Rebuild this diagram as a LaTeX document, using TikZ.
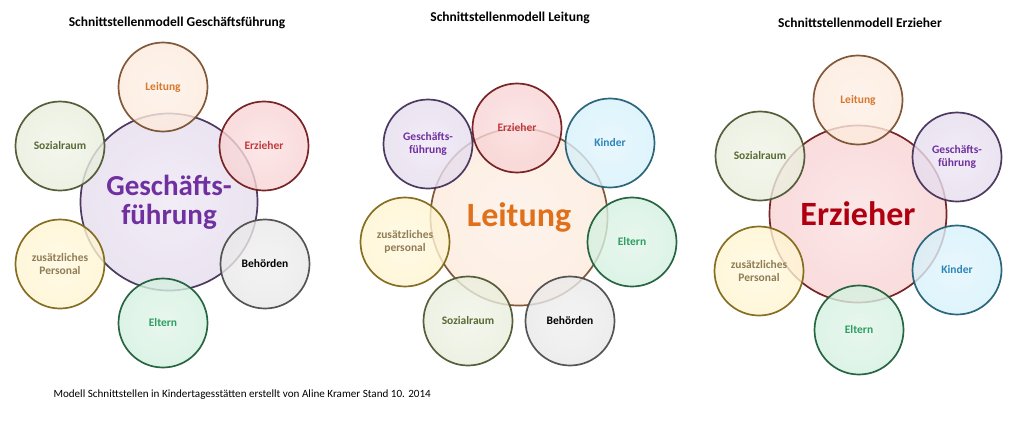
\documentclass[tikz,border=0pt]{standalone}
\usepackage{fontspec}
\setmainfont{Carlito}
\usepackage{tikz}
\usetikzlibrary{shadings}

\definecolor{lila}{HTML}{8A63B0}
\definecolor{orng}{HTML}{F4A060}
\definecolor{rot}{HTML}{E2363C}
\definecolor{oliv}{HTML}{9BB162}
\definecolor{gelb}{HTML}{FFD12E}
\definecolor{grau}{HTML}{9A9A9A}
\definecolor{gruen}{HTML}{3DBB72}
\definecolor{blau}{HTML}{45BEEA}
\definecolor{tlila}{HTML}{7030A0}
\definecolor{torng}{HTML}{D9772C}
\definecolor{trot}{HTML}{C0393D}
\definecolor{toliv}{HTML}{5A6A35}
\definecolor{tgelb}{HTML}{8F7D55}
\definecolor{tgruen}{HTML}{2E9E62}
\definecolor{tblau}{HTML}{2C86B8}
\definecolor{bigrot}{HTML}{B00010}
\definecolor{bigorng}{HTML}{E0701A}
\colorlet{bubcol}{grau}

\pgfdeclareradialshading[bubcol]{bubble}{\pgfpoint{0bp}{0bp}}{%
  color(0bp)=(bubcol!15); color(25bp)=(bubcol!22); color(38bp)=(bubcol!36);
  color(46bp)=(bubcol!62); color(50bp)=(bubcol!90)}

\tikzset{
  bubble/.style={circle,draw=#1!50!black,line width=1.7pt,minimum size=89pt,inner sep=0pt,
    /utils/exec={\colorlet{bubcol}{#1}},shading=bubble,
    fill opacity=0.8,draw opacity=0.95,text opacity=1,align=center,
    font=\bfseries\fontsize{11.5}{13}\selectfont},
  bigbubble/.style={bubble=#1,minimum size=177pt,font=\bfseries\fontsize{31}{31}\selectfont},
  titel/.style={font=\bfseries\fontsize{13.5}{15}\selectfont}
}

\begin{document}
\begin{tikzpicture}[x=1pt,y=-1pt]
  \useasboundingbox (0,0) rectangle (1024,423);
  % Geschaeftsfuehrung
  \node[titel](t1)at(177,23){Schnittstellenmodell Geschäftsführung};
  \node[bigbubble=lila,text=tlila,font=\bfseries\fontsize{29}{29}\selectfont](gf)at(169,202){Geschäfts-\\führung};
  \node[bubble=orng,text=torng](gfL)at(163,87){Leitung};
  \node[bubble=rot,text=trot](gfE)at(264,146){Erzieher};
  \node[bubble=oliv,text=toliv](gfS)at(60,146){Sozialraum};
  \node[bubble=gelb,text=tgelb](gfZ)at(60,264){zusätzliches\\Personal};
  \node[bubble=grau,text=black](gfB)at(265,264){Behörden};
  \node[bubble=gruen,text=tgruen](gfEl)at(163,323){Eltern};
  % Leitung
  \node[titel](t2)at(510,18){Schnittstellenmodell Leitung};
  \node[bigbubble=orng,text=bigorng,font=\bfseries\fontsize{34}{34}\selectfont](le)at(519,217){Leitung};
  \node[bubble=rot,text=trot](leE)at(517,128){Erzieher};
  \node[bubble=blau,text=tblau](leK)at(610,143){Kinder};
  \node[bubble=lila,text=tlila](leG)at(428,144){Geschäfts-\\führung};
  \node[bubble=gruen,text=tgruen](leEl)at(632,242){Eltern};
  \node[bubble=gelb,text=tgelb](leZ)at(405,242){zusätzliches\\personal};
  \node[bubble=oliv,text=toliv](leS)at(468,321){Sozialraum};
  \node[bubble=grau,text=black](leB)at(570,321){Behörden};
  % Erzieher
  \node[titel](t3)at(860,23){Schnittstellenmodell Erzieher};
  \node[bigbubble=rot,text=bigrot,font=\bfseries\fontsize{34}{34}\selectfont](er)at(858,214){Erzieher};
  \node[bubble=orng,text=torng](erL)at(858,100){Leitung};
  \node[bubble=lila,text=tlila](erG)at(957,157){Geschäfts-\\führung};
  \node[bubble=oliv,text=toliv](erS)at(760,156){Sozialraum};
  \node[bubble=gelb,text=tgelb](erZ)at(759,271){zusätzliches\\Personal};
  \node[bubble=blau,text=tblau](erK)at(957,270){Kinder};
  \node[bubble=gruen,text=tgruen](erEl)at(859,330){Eltern};
  % Fusszeile
  \node[anchor=west,font=\fontsize{11.1}{13}\selectfont](fuss)at(50,395){Modell Schnittstellen in Kindertagesstätten erstellt von Aline Kramer Stand 10. 2014};
\end{tikzpicture}
\end{document}
